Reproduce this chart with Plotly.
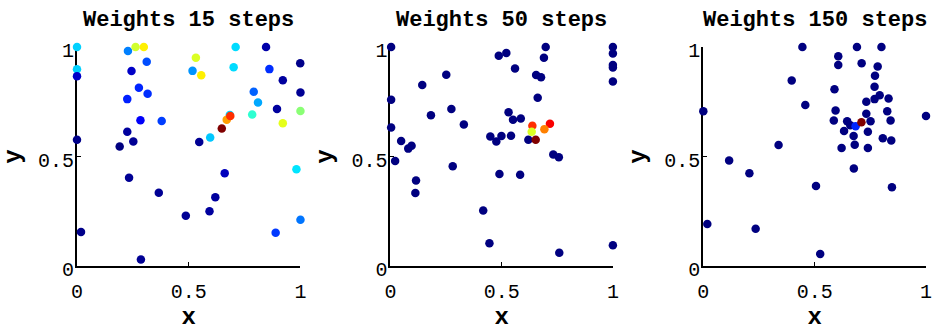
import plotly.graph_objects as go

# weights after 15 steps
x15 = [0.0, 0.0, 0.0, 0.0, 0.018, 0.228, 0.262, 0.299, 0.312, 0.244, 0.277, 0.316, 0.225,
       0.284, 0.379, 0.225, 0.252, 0.191, 0.233, 0.366, 0.487, 0.593, 0.619, 0.661, 0.547,
       0.596, 0.532, 0.517, 0.556, 0.71, 0.701, 0.846, 0.861, 0.999, 0.921, 0.791, 1.0,
       0.81, 0.895, 0.784, 1.0, 0.921, 0.982, 1.0, 0.889, 0.286, 0.684, 0.67, 0.686, 0.648]
y15 = [1.0, 0.898, 0.866, 0.576, 0.155, 0.982, 1.0, 1.0, 0.933, 0.89, 0.814, 0.787, 0.762,
       0.665, 0.662, 0.613, 0.569, 0.546, 0.403, 0.335, 0.229, 0.25, 0.314, 0.424, 0.566,
       0.587, 0.951, 0.891, 0.871, 1.0, 0.908, 1.0, 0.899, 0.926, 0.848, 0.796, 0.792,
       0.747, 0.717, 0.692, 0.708, 0.652, 0.442, 0.211, 0.152, 0.03, 0.69, 0.668, 0.685, 0.628]
w15 = [0.33, 0.33, 0.07, 0.01, 0.01, 0.25, 0.58, 0.64, 0.2, 0.07, 0.16, 0.17, 0.155,
       0.12, 0.185, 0.03, 0.02, 0.0, 0.02, 0.02, 0.02, 0.03, 0.03, 0.06, 0.02,
       0.32, 0.59, 0.27, 0.64, 0.34, 0.34, 0.04, 0.17, 0.01, 0.03, 0.22, 0.02,
       0.29, 0.03, 0.42, 0.51, 0.6, 0.35, 0.24, 0.18, 0.02, 0.33, 0.72, 0.83, 1.0]

# weights after 50 steps
x50 = [0.003, 0.003, 0.003, 0.021, 0.048, 0.08, 0.095, 0.115, 0.112, 0.143, 0.182, 0.251,
       0.274, 0.28, 0.33, 0.417, 0.445, 0.487, 0.521, 0.56, 0.449, 0.476, 0.499, 0.49,
       0.531, 0.551, 0.586, 0.542, 0.583, 0.62, 0.698, 0.69, 0.655, 0.677, 0.662, 0.732,
       0.757, 0.759, 1.0, 1.0, 1.0, 1.0, 1.0, 1.0, 0.638, 0.717, 0.692, 0.635, 0.653]
y50 = [1.0, 0.759, 0.632, 0.479, 0.571, 0.536, 0.549, 0.39, 0.333, 0.827, 0.688, 0.873,
       0.717, 0.455, 0.646, 0.253, 0.104, 0.96, 0.973, 0.902, 0.591, 0.568, 0.594, 0.42,
       0.702, 0.668, 0.673, 0.595, 0.417, 0.576, 1.0, 0.951, 0.872, 0.862, 0.768, 0.509,
       0.497, 0.06, 1.0, 0.97, 0.918, 0.906, 0.842, 0.095, 0.64, 0.65, 0.625, 0.613, 0.576]
w50 = [0.0] * 44 + [0.83, 0.88, 0.75, 0.59, 1.0]

# weights after 150 steps
x150 = [0.0, 0.018, 0.116, 0.207, 0.235, 0.338, 0.397, 0.445, 0.458, 0.506, 0.525, 0.589,
        0.594, 0.586, 0.606, 0.606, 0.621, 0.632, 0.646, 0.66, 0.675, 0.68, 0.676, 0.69,
        0.711, 0.732, 0.732, 0.739, 0.751, 0.739, 0.769, 0.771, 0.783, 0.769, 0.792, 0.8,
        0.806, 0.832, 0.826, 0.841, 0.844, 0.847, 1.0, 0.684, 0.71]
y150 = [0.707, 0.192, 0.482, 0.423, 0.17, 0.552, 0.847, 1.0, 0.735, 0.365, 0.055, 0.807,
        0.71, 0.664, 0.958, 0.918, 0.539, 0.616, 0.661, 0.643, 0.594, 0.554, 0.445, 1.0,
        0.926, 0.75, 0.695, 0.613, 0.661, 0.539, 0.819, 0.869, 0.911, 0.762, 0.78, 1.0,
        0.583, 0.765, 0.707, 0.664, 0.573, 0.36, 0.685, 0.638, 0.656]
w150 = [0.0] * 43 + [0.16, 1.0]

titles = ["Weights 15 steps", "Weights 50 steps", "Weights 150 steps"]
tickvals = [0, 0.5, 1]
ticktext = ["0", "0.5", "1"]

# matlab jet
jet = [[0.0, "rgb(0,0,128)"], [0.125, "rgb(0,0,255)"], [0.375, "rgb(0,255,255)"],
       [0.625, "rgb(255,255,0)"], [0.875, "rgb(255,0,0)"], [1.0, "rgb(128,0,0)"]]

mono = "Liberation Mono, Courier New, monospace"
domains = [[0.0, 0.2632], [0.3692, 0.6312], [0.7377, 1.0]]

fig = go.Figure()
for i, (xs, ys, ws) in enumerate([(x15, y15, w15), (x50, y50, w50), (x150, y150, w150)]):
    sfx = "" if i == 0 else str(i + 1)
    fig.add_trace(go.Scatter(
        x=xs, y=ys, mode="markers", xaxis="x" + sfx, yaxis="y" + sfx,
        cliponaxis=False, showlegend=False,
        marker=dict(size=8.5, color=ws, colorscale=jet, cmin=0, cmax=1, line=dict(width=0)),
    ))
    ax = dict(range=[0, 1], showgrid=False, zeroline=False, showline=True, linecolor="black",
              linewidth=2, ticks="inside", ticklen=4, tickcolor="black", tickvals=tickvals,
              ticktext=ticktext, tickfont=dict(family=mono, size=20, color="black"),
              ticklabeloverflow="allow", layer="below traces")
    fig.update_layout(**{
        "xaxis" + sfx: dict(ax, domain=domains[i], anchor="y" + sfx, ticklabelstandoff=6,
                            title=dict(text="x", standoff=10,
                                       font=dict(family=mono, size=24, weight="bold", color="black"))),
        "yaxis" + sfx: dict(ax, domain=[0, 1], anchor="x" + sfx, ticklabelstandoff=-3,
                            ticklabelshift=3,
                            title=dict(text="y", standoff=12,
                                       font=dict(family=mono, size=24, weight="bold", color="black"))),
    })
    fig.add_annotation(text=titles[i], xref="paper", yref="paper", showarrow=False,
                       x=(domains[i][0] + domains[i][1]) / 2, xanchor="center",
                       y=1, yanchor="bottom", yshift=12,
                       font=dict(family=mono, size=22, weight="bold", color="black"))

fig.update_layout(width=932, height=331, margin=dict(l=77, r=0, t=47, b=60),
                  plot_bgcolor="white", paper_bgcolor="white")
# drop the default page margin so the figure fills the window exactly
fig.write_html("out.html", config={"displayModeBar": False},
               post_script="document.body.style.margin='0';"
                           "document.body.style.overflow='hidden';")
